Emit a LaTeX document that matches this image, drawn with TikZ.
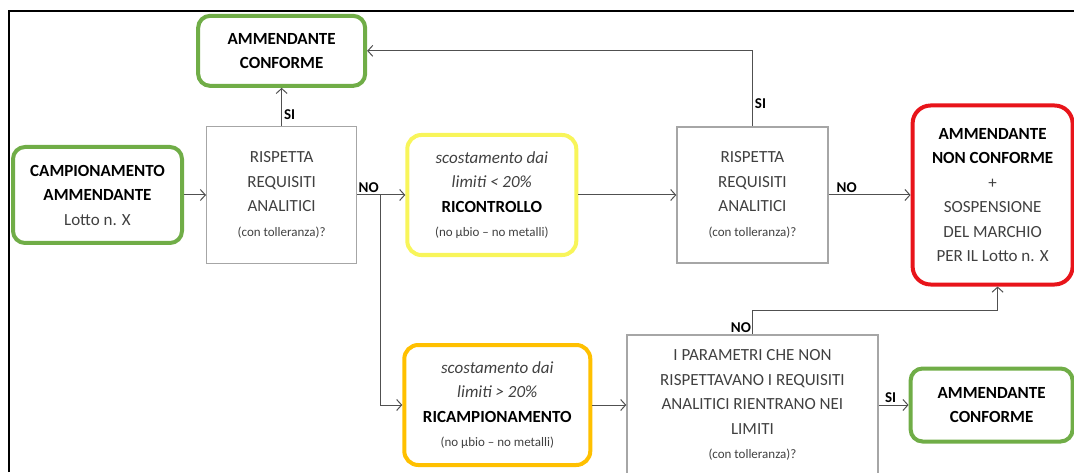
\documentclass[tikz,border=0pt]{standalone}
\usepackage{fontspec}
\setmainfont{Carlito}
\usetikzlibrary{positioning}
\usetikzlibrary{arrows.meta}
\definecolor{okgreen}{HTML}{70AD47}
\definecolor{warnyellow}{HTML}{F8F55A}
\definecolor{warngold}{HTML}{FFC000}
\definecolor{koired}{HTML}{E8141A}
\definecolor{boxgray}{HTML}{A6A6A6}
\definecolor{textgray}{HTML}{404040}
\definecolor{linegray}{HTML}{505050}
\newcommand{\boldline}[1]{{\bfseries\color{black}#1}}
\newcommand{\smallline}[1]{{\fontsize{13}{16}\selectfont #1}}

\begin{document}
\begin{tikzpicture}
	[x=1pt,y=1pt,
	 >={Straight Barb[length=5pt,width=11pt]},
	 box/.style={rectangle,align=center,inner sep=0pt,text=textgray,font=\fontsize{17}{24.5}\selectfont},
	 ok/.style={box,rounded corners=12pt,draw=okgreen,line width=4pt},
	 retry/.style={box,rounded corners=14pt,draw=warnyellow,line width=4pt},
	 resample/.style={box,rounded corners=14pt,draw=warngold,line width=4pt},
	 ko/.style={box,rounded corners=18pt,draw=koired,line width=4pt},
	 check/.style={box,draw=boxgray,line width=1.3pt},
	 flow/.style={draw=linegray,line width=1pt,->},
	 answer/.style={font=\fontsize{15}{18}\selectfont\bfseries,text=black,inner sep=2pt}]
	\useasboundingbox (0,0) rectangle (1074,472);
	\clip (0,0) rectangle (1074,472);
	\draw[line width=1.5pt] (9,0) -- (9,461) -- (1074,461);
	\node[ok]       (camp) at (97.5,277) [minimum width=169pt,minimum height=96pt]
		{\boldline{CAMPIONAMENTO}\\\boldline{AMMENDANTE}\\Lotto n. X};
	\node[check]    (req1) [right=22pt of camp,minimum width=150pt,minimum height=137pt]
		{RISPETTA\\REQUISITI\\ANALITICI\\\smallline{(con tolleranza)?}};
	\node[ok]       (conf1) [above=38pt of req1,minimum width=167pt,minimum height=70pt]
		{\boldline{AMMENDANTE}\\\boldline{CONFORME}};
	\node[retry]    (recheck) [right=48pt of req1,minimum width=169pt,minimum height=120pt]
		{\itshape scostamento dai\\\itshape limiti < 20\%\\\boldline{RICONTROLLO}\\\smallline{(no µbio – no metalli)}};
	\node[check]    (req2) [right=98pt of recheck,minimum width=151pt,minimum height=136pt]
		{RISPETTA\\REQUISITI\\ANALITICI\\\smallline{(con tolleranza)?}};
	\node[ko]       (notok) [right=82pt of req2,minimum width=160pt,minimum height=179pt]
		{\boldline{AMMENDANTE}\\\boldline{NON CONFORME}\\+\\SOSPENSIONE\\DEL MARCHIO\\PER IL Lotto n. X};
	\node[resample] (resamp) [below=86pt of recheck,xshift=5.5pt,minimum width=186pt,minimum height=120pt]
		{\itshape scostamento dai\\\itshape limiti > 20\%\\\boldline{RICAMPIONAMENTO}\\\smallline{(no µbio – no metalli)}};
	\node[check]    (params) [right=34pt of resamp,minimum width=251pt,minimum height=140pt]
		{I PARAMETRI CHE NON\\RISPETTAVANO I REQUISITI\\ANALITICI RIENTRANO NEI\\LIMITI\\\smallline{(con tolleranza)?}};
	\node[ok]       (conf2) [right=30pt of params,minimum width=162pt,minimum height=73pt]
		{\boldline{AMMENDANTE}\\\boldline{CONFORME}};
	\coordinate (split) at (380,277);
	\draw[flow] (camp.east) -- (req1.west);
	\draw[flow] (req1.north) -- node[answer,right,pos=0.3] {SI} (conf1.south);
	\draw[draw=linegray,line width=1pt] (req1.east) -- node[answer,above] {NO} (split);
	\draw[flow] (split) -- (recheck.west);
	\draw[flow] (split) |- (resamp.west);
	\draw[flow] (recheck.east) -- (req2.west);
	\draw[flow] (req2.north) |- node[answer,right,pos=0.15] {SI} (conf1.east);
	\draw[flow] (req2.east) -- node[answer,above,pos=0.22] {NO} (notok.west);
	\draw[flow] (resamp.east) -- (params.west);
	\draw[flow] (params.north) -- node[answer,above left,pos=0,inner sep=1pt] {NO} ++(0,24) -| ([xshift=5pt]notok.south);
	\draw[flow] (params.east) -- node[answer,above,pos=0.4] {SI} (conf2.west);
\end{tikzpicture}
\end{document}
